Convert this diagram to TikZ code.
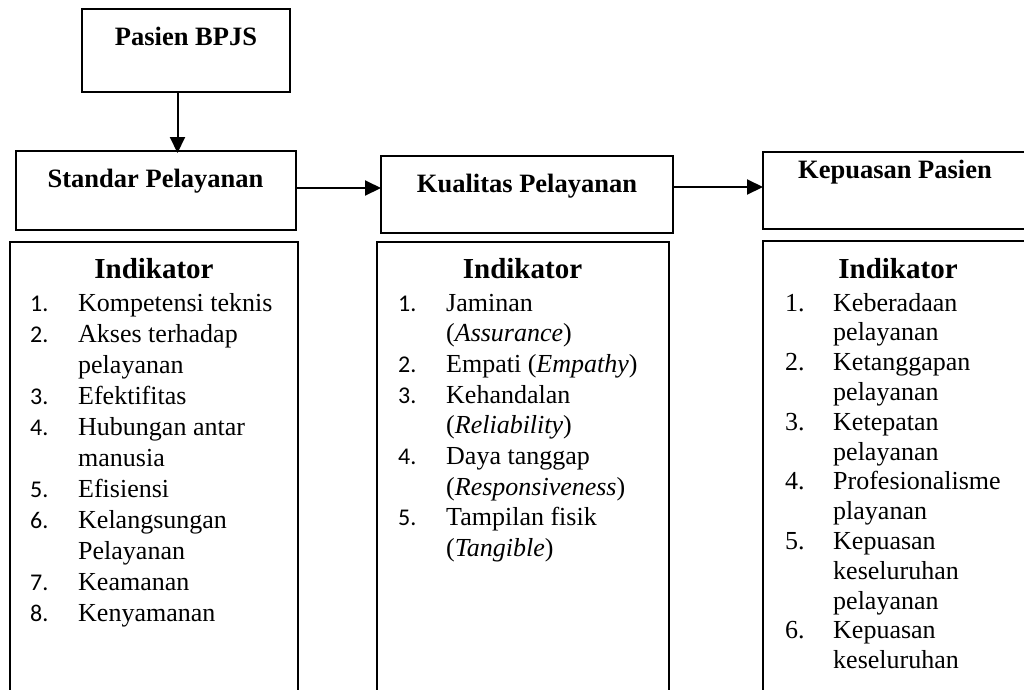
\documentclass[tikz,border=0pt]{standalone}
\usepackage{fontspec}
\setmainfont{Liberation Serif}
\newfontfamily\numfont{Carlito}
\usetikzlibrary{arrows.meta}
\begin{document}
\begin{tikzpicture}[x=1pt,y=-1pt,
  box/.style={draw,line width=2pt,inner sep=0pt,outer sep=0pt,anchor=north west},
  title/.style={font=\fontsize{26.5}{31}\selectfont\bfseries,anchor=base,inner sep=0pt},
  head/.style={font=\fontsize{29}{33}\selectfont\bfseries,anchor=base,inner sep=0pt},
  body/.style={font=\fontsize{26}{31}\selectfont,anchor=base west,inner sep=0pt},
  numc/.style={font=\fontsize{24}{31}\selectfont\numfont,anchor=base west,inner sep=0pt},
  numt/.style={font=\fontsize{26}{31}\selectfont,anchor=base west,inner sep=0pt},
  arr/.style={line width=2pt,-{Triangle[length=16pt,width=15pt]}}]
\useasboundingbox (0,0) rectangle (1024,689);
\clip (0,0) rectangle (1024,689);
\fill[white] (0,0) rectangle (1024,689);

% top boxes
\node[box,minimum width=208pt,minimum height=83pt] (pasien) at (82,9) {};
\node[box,minimum width=280pt,minimum height=79pt] (standar) at (16,151) {};
\node[box,minimum width=292pt,minimum height=77pt] (kualitas) at (381,156) {};
\node[box,minimum width=277pt,minimum height=77pt] (kepuasan) at (763,152) {};

\node[title] (tpasien) at (186,45) {Pasien BPJS};
\node[title] (tstandar) at (155.5,187) {Standar Pelayanan};
\node[title] (tkualitas) at (527,192) {Kualitas Pelayanan};
\node[title] (tkepuasan) at (895,178) {Kepuasan Pasien};

% arrows
\coordinate (ax) at (177.5,0);
\coordinate (r1) at (0,188);
\coordinate (r2) at (0,187);
\draw[arr] (pasien.south -| ax) -- ([yshift=-2pt]standar.north -| ax);
\draw[arr] (standar.east |- r1) -- (kualitas.west |- r1);
\draw[arr] (kualitas.east |- r2) -- (kepuasan.west |- r2);

% indicator boxes
\node[box,minimum width=288pt,minimum height=480pt] (ind1) at (10,242) {};
\node[box,minimum width=292pt,minimum height=480pt] (ind2) at (377,242) {};
\node[box,minimum width=277pt,minimum height=480pt] (ind3) at (763,241) {};

\node[head] (h1) at (154,278) {Indikator};
\node[head] (h2) at (522.5,278) {Indikator};
\node[head] (h3) at (898,278) {Indikator};

% column 1
\foreach \n/\t [count=\i from 0] in {1./Kompetensi teknis, 2./Akses terhadap, /pelayanan, 3./Efektifitas, 4./Hubungan antar, /manusia, 5./Efisiensi, 6./Kelangsungan, /Pelayanan, 7./Keamanan, 8./Kenyamanan}{
  \pgfmathsetmacro\yy{311+31*\i}
  \node[numc] (an\i) at (30,\yy) {\n};
  \node[body] (at\i) at (78,\yy) {\t};
}
% column 2
\foreach \n/\t [count=\i from 0] in {1./Jaminan, /(\textit{Assurance}), 2./Empati (\textit{Empathy}), 3./Kehandalan, /(\textit{Reliability}), 4./Daya tanggap, /(\textit{Responsiveness}), 5./Tampilan fisik, /(\textit{Tangible})}{
  \pgfmathsetmacro\yy{311+30.7*\i}
  \node[numc] (bn\i) at (398,\yy) {\n};
  \node[body] (bt\i) at (446,\yy) {\t};
}
% column 3
\foreach \n/\t [count=\i from 0] in {1./Keberadaan, /pelayanan, 2./Ketanggapan, /pelayanan, 3./Ketepatan, /pelayanan, 4./Profesionalisme, /playanan, 5./Kepuasan, /keseluruhan, /pelayanan, 6./Kepuasan, /keseluruhan}{
  \pgfmathsetmacro\yy{311+29.8*\i}
  \node[numt] (cn\i) at (785,\yy) {\n};
  \node[body] (ct\i) at (833,\yy) {\t};
}
\end{tikzpicture}
\end{document}
